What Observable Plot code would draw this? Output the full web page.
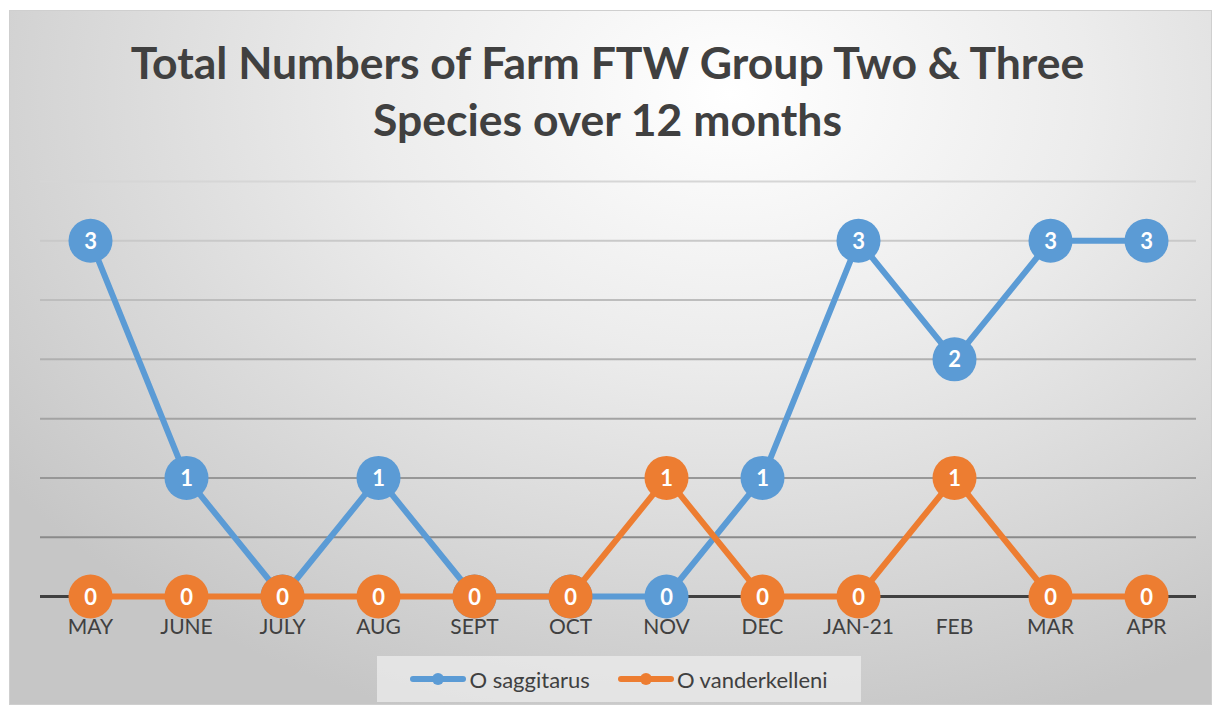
<!DOCTYPE html>
<html>
<head>
<meta charset="utf-8">
<script src="https://cdn.jsdelivr.net/npm/d3@7"></script>
<script src="https://cdn.jsdelivr.net/npm/@observablehq/plot@0.6"></script>
<style>
  html, body { margin: 0; padding: 0; background: #ffffff; width: 1215px; height: 711px; overflow: hidden; }
  body { position: relative; font-family: Lato, "Open Sans", sans-serif; }
  #frame {
    position: absolute; left: 9px; top: 10px; width: 1201px; height: 693px;
    border: 1px solid #cfcfcf;
    background: radial-gradient(ellipse 75% 95% at 60% 12%, #ffffff 0%, #ececec 40%, #d6d6d6 75%, #c6c6c6 100%);
  }
  #title {
    position: absolute; left: 0; top: 33px; width: 1215px; text-align: center;
    font-family: Lato, "Open Sans", sans-serif; font-weight: bold; font-size: 44.5px; line-height: 57px;
    color: #404040;
  }
  #chart { position: absolute; left: 0; top: 170px; }
  #legend {
    position: absolute; left: 377px; top: 656px; width: 484px; height: 46px;
    background: rgba(236,236,236,0.75);
    display: flex; align-items: center; justify-content: center; gap: 28px;
    font-family: Lato, "Open Sans", sans-serif; font-size: 22px; color: #404040;
  }
  .item { display: flex; align-items: center; gap: 3px; }
</style>
</head>
<body>
<div id="frame"></div>
<div id="title">Total Numbers of Farm FTW Group Two &amp; Three<br>Species over 12 months</div>
<div id="chart"></div>
<div id="legend"></div>
<script>
const months = ["MAY","JUNE","JULY","AUG","SEPT","OCT","NOV","DEC","JAN-21","FEB","MAR","APR"];
const saggitarus = [3,1,0,1,0,0,0,1,3,2,3,3];
const vanderkelleni = [0,0,0,0,0,0,1,0,0,1,0,0];
const seriesNames = ["O saggitarus","O vanderkelleni"];
const seriesColors = ["#5B9BD5","#ED7D31"];
const gridValues = [0.5,1,1.5,2,2.5,3,3.5];

const blue = months.map((m,i) => ({month: m, value: saggitarus[i]}));
const orange = months.map((m,i) => ({month: m, value: vanderkelleni[i]}));

const gridColor = d3.scaleLinear().domain([0.5, 3.5]).range(["#8a8a8a", "#d6d6d6"]);

function seriesMarks(data, color) {
  return [
    Plot.line(data, {x: "month", y: "value", stroke: color, strokeWidth: 6, strokeLinejoin: "round"}),
    Plot.dot(data, {x: "month", y: "value", r: 22, fill: color, stroke: "none"}),
    Plot.text(data, {x: "month", y: "value", text: d => String(d.value), fill: "white",
      fontSize: 22, fontWeight: "bold", fontFamily: "Lato, 'Open Sans', sans-serif", dy: 1})
  ];
}

const chart = Plot.plot({
  width: 1215,
  height: 470,
  marginLeft: 40,
  marginRight: 19,
  marginTop: 11,
  marginBottom: 44,
  style: {background: "transparent", fontFamily: "Lato, 'Open Sans', sans-serif", overflow: "visible"},
  x: {type: "point", domain: months, padding: 0.5, label: null},
  y: {domain: [0, 3.5], axis: null},
  marks: [
    Plot.ruleY(gridValues, {stroke: d => gridColor(d), strokeWidth: 2}),
    Plot.ruleY([0], {stroke: "#404040", strokeWidth: 3}),
    Plot.axisX({tickSize: 0, tickPadding: 23, fontSize: 21, color: "#404040", fill: "#404040", label: null}),
    ...seriesMarks(blue, seriesColors[0]),
    ...seriesMarks(orange, seriesColors[1])
  ]
});
document.getElementById("chart").appendChild(chart);

const legend = document.getElementById("legend");
seriesNames.forEach((name, i) => {
  const item = document.createElement("div");
  item.className = "item";
  item.innerHTML = `<svg width="56" height="14"><line x1="3" y1="7" x2="53" y2="7" stroke="${seriesColors[i]}" stroke-width="6" stroke-linecap="round"/><circle cx="28" cy="7" r="6" fill="${seriesColors[i]}"/></svg><span>${name}</span>`;
  legend.appendChild(item);
});
</script>
</body>
</html>
